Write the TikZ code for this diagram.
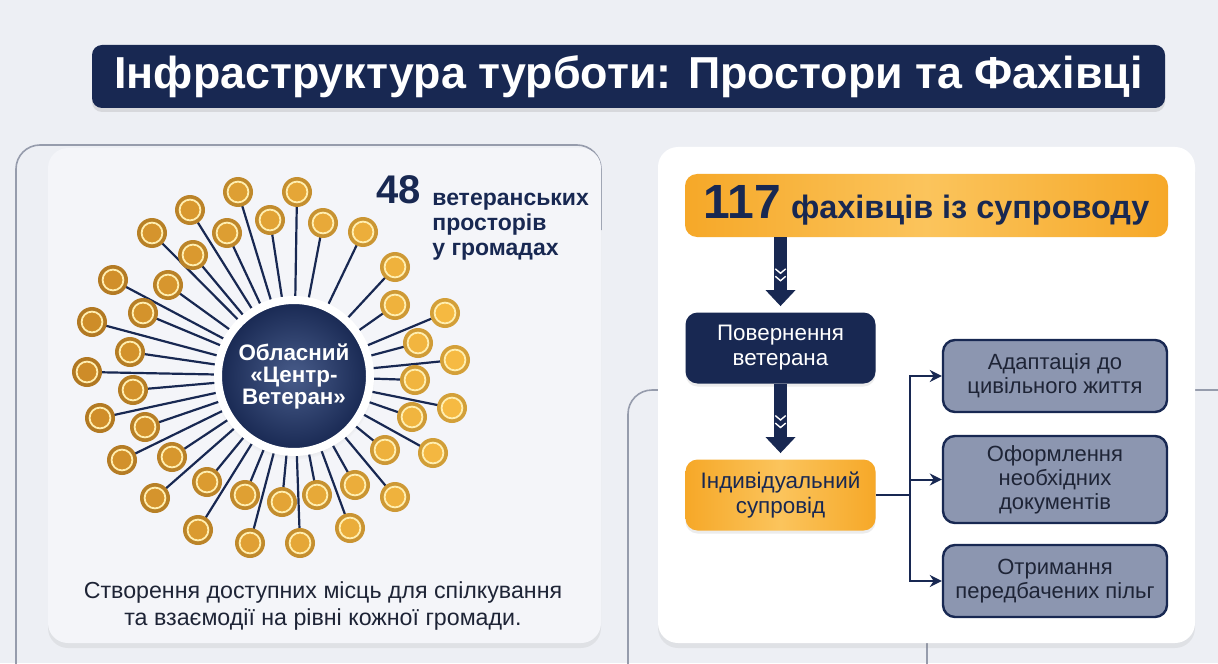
\documentclass[tikz,border=0pt]{standalone}
\usepackage{fontspec}
\setmainfont{Liberation Sans}
\usetikzlibrary{arrows.meta,shadows,decorations.markings,positioning}

\definecolor{navy}{RGB}{24,40,82}
\definecolor{navylight}{RGB}{72,92,138}
\definecolor{bgc}{RGB}{237,239,244}
\definecolor{cardl}{RGB}{244,245,249}
\definecolor{orangec}{RGB}{246,168,40}
\definecolor{orangel}{RGB}{251,196,92}
\definecolor{slate}{RGB}{140,150,176}
\definecolor{framec}{RGB}{150,156,172}
\definecolor{dotdark}{RGB}{206,140,40}
\definecolor{dotlight}{RGB}{246,186,66}
\definecolor{ringc}{RGB}{255,238,176}
\definecolor{inkc}{RGB}{30,36,54}

\tikzset{
  frame/.style={draw=framec, line width=0.8pt, rounded corners=12pt},
  card/.style={rounded corners=10pt, drop shadow={shadow xshift=0pt, shadow yshift=-2.5pt, opacity=0.12}},
  banner/.style={fill=navy, rounded corners=5pt, text=white, minimum width=536.5pt, minimum height=31.5pt,
    font=\bfseries\fontsize{22.4}{24}\selectfont, drop shadow={shadow xshift=0pt, shadow yshift=-2pt, opacity=0.2}},
  spoke/.style={navy, line width=1.1pt},
  hubnode/.style={circle, minimum size=76pt, inner sep=0pt, inner color=navylight, outer color=navy,
    draw=white, line width=4pt, text=white, align=center, font=\bfseries\fontsize{11.2}{11}\selectfont,
    circular drop shadow={shadow xshift=0pt, shadow yshift=-1.5pt, opacity=0.25, shadow scale=1.06}},
  gdot/.style={circle, inner sep=0pt, minimum size=15pt, fill=dc!86!black,
    path picture={\fill[dc] (path picture bounding box.center) circle (5.2pt);
      \draw[ringc, line width=0.9pt] (path picture bounding box.center) circle (5.2pt);}},
  hdr/.style={rounded corners=6pt, left color=orangec, right color=orangec, middle color=orangel,
    minimum width=241.5pt, minimum height=31.5pt, text=navy, font=\bfseries},
  flowbox/.style={rounded corners=6pt, minimum width=95pt, minimum height=35.5pt, align=center,
    font=\fontsize{11.2}{12.5}\selectfont, drop shadow={shadow xshift=0pt, shadow yshift=-1.5pt, opacity=0.15}},
  navybox/.style={flowbox, fill=navy, text=white},
  orangebox/.style={flowbox, left color=orangec, right color=orangec, middle color=orangel, text=navy},
  slatebox/.style={rounded corners=6pt, minimum width=112pt, minimum height=36pt, align=center,
    fill=slate, draw=navy, line width=1.2pt, text=inkc, font=\fontsize{11}{12}\selectfont},
  chev/.style={-, shorten >=0pt, white, line width=0.7pt},
  fat/.style={navy, line width=6.5pt, -{Triangle[width=14.5pt,length=8pt]}, shorten >=3pt,
    postaction={decorate, decoration={markings,
      mark=at position 0.48 with {\draw[chev] (-2.2pt,2.6pt) -- (0,0) -- (-2.2pt,-2.6pt);},
      mark=at position 0.58 with {\draw[chev] (-2.2pt,2.6pt) -- (0,0) -- (-2.2pt,-2.6pt);}}}},
  branch/.style={navy, line width=1pt},
  tip/.style={branch, -{Stealth[width=6pt,length=6pt]}}
}

\def\spots{238/192, 297/192, 190/210, 270/220, 323/223, 227/233, 152/233, 363/232, 193/255,
  395/267, 113/280, 168/285, 395/305, 445/313, 143/313, 92/322, 418/343, 130/352, 455/360,
  87/372, 415/380, 133/390, 452/408, 100/418, 412/417, 145/427, 385/450, 433/453, 172/457,
  122/460, 207/482, 355/485, 245/495, 317/495, 395/497, 155/498, 282/502, 198/530, 350/528,
  250/543, 300/543}

\begin{document}
\begin{tikzpicture}[x=0.5pt,y=-0.5pt]
\useasboundingbox (0,0) rectangle (1218,663);
\fill[bgc] (0,0) rectangle (1218,663);
% frames behind the cards
\draw[frame] (16,720) -- (16,145) -- (601,145) -- (601,230);
\draw[frame] (1260,390) -- (628,390) -- (628,690) -- (560,690);
\draw[frame] (927,600) -- (927,690);
\fill[card, fill=cardl] (48,148) rectangle (601,643);
\fill[card, fill=white] (658,147) rectangle (1195,643);

\node[banner] (title) at (628.5,76.5) {Інфраструктура турботи: Простори та Фахівці};

% left card: hub and spaces
\coordinate (hubc) at (294,376);
\foreach \x/\y [count=\i] in \spots {
  \coordinate (d\i) at (\x,\y);
  \draw[spoke] (hubc) -- (d\i);
}
\node[hubnode] (hub) at (hubc) {Обласний\\«Центр-\\Ветеран»};
\foreach \x/\y [count=\i] in \spots {
  \pgfmathtruncatemacro\p{(\x-85)/3.7}
  \colorlet{dc}{dotlight!\p!dotdark}
  \node[gdot] (dot\i) at (d\i) {};
}
\node[anchor=base west, inner sep=0pt, text=navy, font=\bfseries\fontsize{20}{20}\selectfont] (num48) at (376,204) {48};
\node[anchor=north west, inner sep=0pt, align=left, text=navy, font=\bfseries\fontsize{11.5}{12.5}\selectfont]
  (spaces) at (432,193) {ветеранських\\просторів\\у громадах};
\node[align=center, text=inkc, font=\fontsize{11.6}{13.5}\selectfont] (note) at (323,606)
  {Створення доступних місць для спілкування\\та взаємодії на рівні кожної громади.};

% right card: flow
\node[hdr] (head) at (926.5,205.5) {{\fontsize{24}{24}\selectfont 117}\hspace{5pt}{\fontsize{16.2}{18}\selectfont фахівців із супроводу}};
\node[navybox] (ret) at (780.5,348) {Повернення\\ветерана};
\node[orangebox] (ind) at (780.5,495) {Індивідуальний\\супровід};
\node[slatebox] (adapt) at (1055,376) {Адаптація до\\цивільного життя};
\node[slatebox, minimum height=43.5pt] (docs) at (1055,479.5) {Оформлення\\необхідних\\документів};
\node[slatebox] (perks) at (1055,581) {Отримання\\передбачених пільг};

\draw[fat] (head.south -| ret.north) -- (ret.north);
\draw[fat] (ret.south) -- (ind.north);
\coordinate (fork) at (910,495);
\draw[branch] (ind.east) -- (fork);
\draw[tip] (fork) |- (adapt.west);
\draw[tip] (fork) |- (docs.west);
\draw[tip] (fork) |- (perks.west);
\end{tikzpicture}
\end{document}
